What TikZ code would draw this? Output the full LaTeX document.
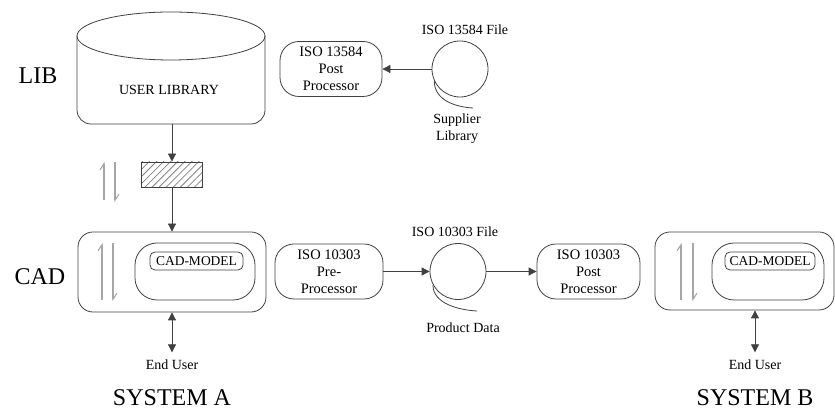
\documentclass[tikz,border=0pt]{standalone}
\usepackage{fontspec}
\setmainfont{Liberation Serif}
\usetikzlibrary{arrows.meta, positioning, patterns.meta}

\begin{document}
\begin{tikzpicture}[x=1pt, y=1pt, line width=0.8pt, draw=black!75,
  every node/.style={font=\fontsize{14}{17}\selectfont},
  proc/.style={draw=black!75, rounded corners=19pt, inner sep=0pt, align=center,
    minimum width=104pt, minimum height=55pt,
    font=\fontsize{14.5}{17}\selectfont},
  datafile/.style={draw=black!75, circle, inner sep=0pt, minimum size=56pt},
  flow/.style={-{Triangle[length=8pt, width=8pt]}},
  both/.style={{Triangle[length=8pt, width=8pt]}-{Triangle[length=8pt, width=8pt]}},
  harpoon/.style={gray!70, line width=1.1pt, -{Straight Barb[left, length=6pt, width=8pt]}},
  sysbox/.style={draw=black!75, rounded corners=15pt, inner sep=0pt},
  workbox/.style={draw=black!75, rounded corners=22pt, inner sep=0pt,
    minimum height=57pt},
  modelbox/.style={draw=black!75, rounded corners=5pt, inner sep=0pt,
    minimum height=18pt, font=\fontsize{13.5}{16}\selectfont},
  bigtxt/.style={font=\fontsize{24}{28}\selectfont}]

  \def\midy{145.5}

  \useasboundingbox (0,0) rectangle (835,417);

  % Library cylinder -------------------------------------------------------
  \draw[rounded corners=14pt] (77,381) -- (77,293) -- (265,293) -- (265,381);
  \draw (171,381) ellipse [x radius=94, y radius=24];
  \coordinate (libbot) at (172,293);
  \node (userlib) at (169,327) {USER LIBRARY};
  \node[bigtxt] (lib) at (38,341) {LIB};

  % Exchange block between library and CAD --------------------------------
  \node[draw=black!75, pattern={Lines[angle=45, distance=5pt]}, pattern color=gray,
        minimum width=61pt, minimum height=25pt, inner sep=0pt]
    (xfer) at (172,242.5) {};
  \draw[flow] (libbot) -- (xfer.north);
  \draw[harpoon] (104,217) -- (104,255);
  \draw[harpoon] (115,255) -- (115,215);

  % System A ---------------------------------------------------------------
  \node[bigtxt] (cad) at (40,140) {CAD};
  \node[sysbox, minimum width=188pt, minimum height=80pt] (sysa) at (172,145) {};
  \node[workbox, minimum width=120pt] (worka) at (195,145.5) {};
  \node[modelbox, minimum width=93pt] (modela) at (196.5,156) {CAD-MODEL};
  \draw[flow] (xfer.south) -- (xfer.south |- sysa.north);
  \draw[harpoon] (102,117) -- (102,174);
  \draw[harpoon] (113,174) -- (113,116);
  \node (usera) at (172,52) {End User};
  \draw[both] (sysa.south -| usera) -- ([yshift=4pt]usera.north);
  \node[bigtxt] (sysalbl) at (172,19) {SYSTEM A};

  % ISO 13584 exchange -----------------------------------------------------
  \node[proc, minimum width=102pt] (post1) at (331,348) {ISO 13584\\Post\\Processor};
  \node[datafile] (file1) at (460,348) {};
  \draw[flow] (file1) -- (post1);
  \draw (file1.205) .. controls +(0,-19) and +(-18,1) .. (473,309);
  \node (file1lbl) at (465,387) {ISO 13584 File};
  \node[align=center] (supp) at (457,288) {Supplier\\Library};

  % ISO 10303 exchange -----------------------------------------------------
  \node[proc, minimum width=108pt] (pre) at (329,\midy) {ISO 10303\\Pre-\\Processor};
  \node[datafile] (file2) at (458,\midy) {};
  \node[proc, minimum width=103pt] (post2) at (588.5,\midy) {ISO 10303\\Post\\Processor};
  \draw[flow] (pre) -- (file2);
  \draw[flow] (file2) -- (post2);
  \draw (file2.208) .. controls +(0,-19) and +(-18,1) .. (477,106);
  \node (file2lbl) at (455,185) {ISO 10303 File};
  \node (prod) at (463,89) {Product Data};

  % System B ---------------------------------------------------------------
  \node[sysbox, minimum width=179pt, minimum height=78pt] (sysb) at (744.5,146) {};
  \node[workbox, minimum width=112pt] (workb) at (768,145.5) {};
  \node[modelbox, minimum width=90pt] (modelb) at (770,156) {CAD-MODEL};
  \draw[harpoon] (681,117) -- (681,174);
  \draw[harpoon] (693,174) -- (693,116);
  \node (userb) at (755,52) {End User};
  \draw[both] (sysb.south -| userb) -- ([yshift=4pt]userb.north);
  \node[bigtxt] (sysblbl) at (755,19) {SYSTEM B};

\end{tikzpicture}
\end{document}
